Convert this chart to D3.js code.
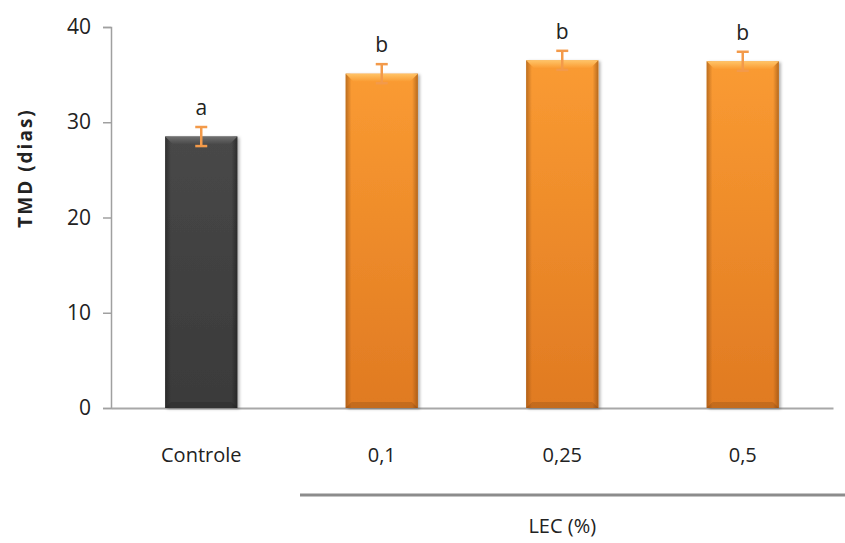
<!DOCTYPE html>
<html>
<head>
<meta charset="utf-8">
<script src="https://cdn.jsdelivr.net/npm/d3@7"></script>
<style>
  html, body { margin: 0; padding: 0; background: #fff; }
  svg { display: block; }
  text { font-family: "Open Sans", Arial, sans-serif; fill: #222; }
</style>
</head>
<body>
<svg id="chart" width="845" height="543"></svg>
<script>
// Mean TMD (days) per treatment, with error and significance letters
const categories = ["Controle", "0,1", "0,25", "0,5"];
const values = [28.5, 35.1, 36.5, 36.4];
const errors = [1.0, 1.0, 1.0, 1.0];
const letters = ["a", "b", "b", "b"];
const yTicks = [0, 10, 20, 30, 40];
const groupLabel = "LEC (%)";
const yTitle = "TMD (dias)";

const svg = d3.select("#chart");
const margin = { left: 111, right: 12, top: 27, bottom: 135 };
const W = 845, H = 543;

const x = d3.scaleBand().domain(categories)
  .range([margin.left, W - margin.right]).paddingInner(0.6).paddingOuter(0.3);
const y = d3.scaleLinear().domain([0, 40]).range([H - margin.bottom, margin.top]);

const defs = svg.append("defs");
// vertical body shading, edge darkening and top bevel for each bar colour
function barGradients(id, top, bottom, light, edge) {
  const v = defs.append("linearGradient").attr("id", id)
    .attr("x1", 0).attr("x2", 0).attr("y1", 0).attr("y2", 1);
  v.append("stop").attr("offset", "0%").attr("stop-color", top);
  v.append("stop").attr("offset", "100%").attr("stop-color", bottom);
  const e = defs.append("linearGradient").attr("id", id + "-edge")
    .attr("x1", 0).attr("x2", 1).attr("y1", 0).attr("y2", 0);
  e.append("stop").attr("offset", "0%").attr("stop-color", edge).attr("stop-opacity", 0.55);
  e.append("stop").attr("offset", "8%").attr("stop-color", edge).attr("stop-opacity", 0);
  e.append("stop").attr("offset", "92%").attr("stop-color", edge).attr("stop-opacity", 0);
  e.append("stop").attr("offset", "100%").attr("stop-color", edge).attr("stop-opacity", 0.6);
  const t = defs.append("linearGradient").attr("id", id + "-top")
    .attr("x1", 0).attr("x2", 0).attr("y1", 0).attr("y2", 1);
  t.append("stop").attr("offset", "0%").attr("stop-color", light);
  t.append("stop").attr("offset", "100%").attr("stop-color", top);
}
barGradients("g-dark", "#484848", "#3a3a3a", "#707070", "#1a1a1a");
barGradients("g-orange", "#fa9b32", "#e07a22", "#ffc468", "#8a4a10");

const shadow = defs.append("filter").attr("id", "shadow")
  .attr("x", "-10%").attr("y", "-10%").attr("width", "130%").attr("height", "120%");
shadow.append("feDropShadow").attr("dx", 2).attr("dy", 1).attr("stdDeviation", 1.5)
  .attr("flood-color", "#000").attr("flood-opacity", 0.3);

// y axis
const yAxis = d3.axisLeft(y).tickValues(yTicks).tickSize(8).tickPadding(12);
const gy = svg.append("g").attr("transform", `translate(${margin.left},0)`).call(yAxis);
gy.select(".domain").attr("stroke", "#a0a0a0").attr("stroke-width", 1.5);
gy.selectAll(".tick line").attr("stroke", "#a0a0a0").attr("stroke-width", 1.5);
gy.selectAll(".tick text").style("font-size", "21px").style("font-family", "'Open Sans', Arial, sans-serif").attr("fill", "#222");

// x axis
const xAxis = d3.axisBottom(x).tickSize(0).tickPadding(40);
const gx = svg.append("g").attr("transform", `translate(0,${y(0)})`).call(xAxis);
gx.select(".domain").attr("stroke", "#a8a8a8").attr("stroke-width", 2);
gx.selectAll(".tick text").style("font-size", "20px").style("font-family", "'Open Sans', Arial, sans-serif").attr("fill", "#222");

// bars
const bars = svg.append("g").selectAll("g.bar").data(categories).join("g").attr("class", "bar");
bars.each(function(c, i) {
  const g = d3.select(this);
  const x0 = x(c), bw = x.bandwidth();
  const y0 = y(values[i]), h = y(0) - y0;
  const id = i === 0 ? "g-dark" : "g-orange";
  g.append("rect").attr("x", x0).attr("y", y0).attr("width", bw).attr("height", h)
    .attr("fill", `url(#${id})`).attr("filter", "url(#shadow)");
  g.append("rect").attr("x", x0).attr("y", y0).attr("width", bw).attr("height", h)
    .attr("fill", `url(#${id}-edge)`);
  // top bevel
  const bv = 8;
  g.append("path")
    .attr("d", `M${x0},${y0}L${x0 + bw},${y0}L${x0 + bw - bv},${y0 + bv}L${x0 + bv},${y0 + bv}Z`)
    .attr("fill", `url(#${id}-top)`);
  // bottom bevel
  g.append("path")
    .attr("d", `M${x0},${y(0)}L${x0 + bw},${y(0)}L${x0 + bw - 6},${y(0) - 6}L${x0 + 6},${y(0) - 6}Z`)
    .attr("fill", "#000").attr("opacity", 0.12);
});

// error bars
const err = svg.append("g").attr("stroke", "#f39a4a").attr("stroke-width", 2.5);
categories.forEach((c, i) => {
  const cx = x(c) + x.bandwidth() / 2;
  const yt = y(values[i] + errors[i]), yb = y(values[i] - errors[i]);
  err.append("line").attr("x1", cx).attr("x2", cx).attr("y1", yt).attr("y2", yb);
  err.append("line").attr("x1", cx - 6).attr("x2", cx + 6).attr("y1", yt).attr("y2", yt);
  err.append("line").attr("x1", cx - 6).attr("x2", cx + 6).attr("y1", yb).attr("y2", yb);
});

// significance letters
svg.append("g").selectAll("text").data(categories).join("text")
  .attr("x", c => x(c) + x.bandwidth() / 2)
  .attr("y", (c, i) => y(values[i] + errors[i]) - 12)
  .attr("text-anchor", "middle").style("font-size", "21px")
  .text((c, i) => letters[i]);

// grouping line under the treatment categories
svg.append("line").attr("x1", 300).attr("x2", W).attr("y1", 495).attr("y2", 495)
  .attr("stroke", "#8c8c8c").attr("stroke-width", 3);
svg.append("text").attr("x", (x("0,1") + x("0,5") + x.bandwidth()) / 2).attr("y", 533)
  .attr("text-anchor", "middle").style("font-size", "20px").text(groupLabel);

// y title
svg.append("text").attr("transform", `translate(32,168) rotate(-90)`)
  .attr("text-anchor", "middle").style("font-size", "19px").style("font-weight", "bold")
  .style("letter-spacing", "2px").text(yTitle);
</script>
</body>
</html>
